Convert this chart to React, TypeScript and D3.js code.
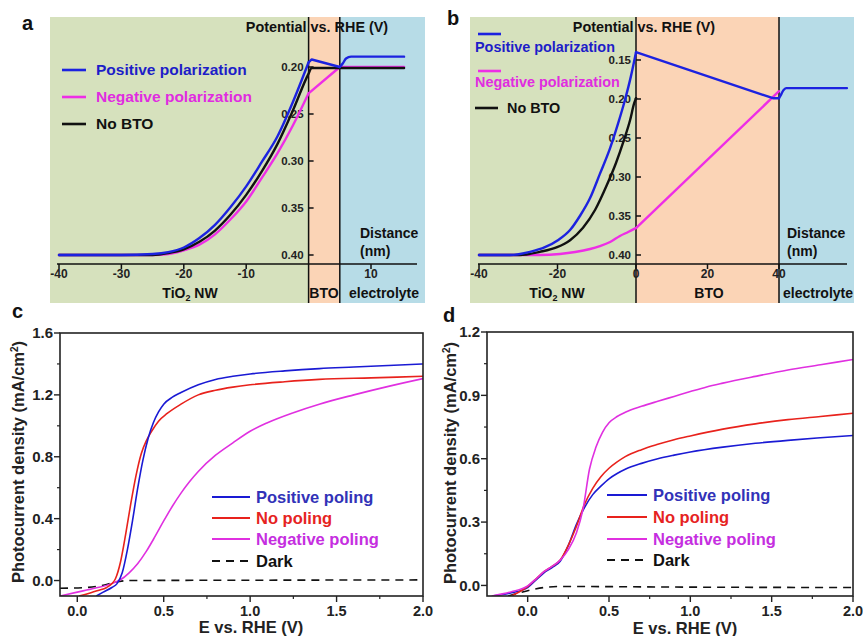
import React from 'react';
import * as d3 from 'd3';

// ---------- Panel a (band diagram, thin BTO: 0–5 nm) ----------
const aTicksX = [-40, -30, -20, -10, 10];
const aTicksY = [0.2, 0.25, 0.3, 0.35, 0.4];
const aPosX = [-40, -30, -25, -22.5, -20, -17.5, -15, -12.5, -10, -7.5, -5, -2.5, 0, 0.5, 5, 5.5, 6, 6.8, 15.3];
const aPosY = [0.4, 0.4, 0.399, 0.397, 0.392, 0.382, 0.368, 0.349, 0.327, 0.301, 0.274, 0.237, 0.195, 0.192, 0.2, 0.196, 0.191, 0.189, 0.189];
const aNoX = [-40, -25, -22.5, -20, -17.5, -15, -12.5, -10, -7.5, -5, -2.5, 0, 0.5, 2, 15.3];
const aNoY = [0.4, 0.4, 0.398, 0.394, 0.386, 0.374, 0.357, 0.336, 0.311, 0.282, 0.246, 0.207, 0.201, 0.201, 0.201];
const aNegX = [-40, -25, -22.5, -20, -17.5, -15, -12.5, -10, -7.5, -5, -2.5, 0, 5, 15.3];
const aNegY = [0.4, 0.4, 0.399, 0.395, 0.389, 0.378, 0.362, 0.343, 0.318, 0.292, 0.262, 0.228, 0.2, 0.2];

// ---------- Panel b (band diagram, thick BTO: 0–40 nm) ----------
const bTicksX = [-40, -20, 0, 20, 40];
const bTicksY = [0.15, 0.2, 0.25, 0.3, 0.35, 0.4];
const bPosX = [-40, -32.1, -27, -23.2, -19.9, -16.8, -14.3, -11.7, -9.2, -6.6, -4.6, -2.8, -1.3, 0, 38.3, 40, 40.5, 41.2, 42, 59];
const bPosY = [0.4, 0.4, 0.396, 0.39, 0.381, 0.368, 0.35, 0.327, 0.296, 0.263, 0.232, 0.201, 0.171, 0.14, 0.199, 0.199, 0.195, 0.189, 0.186, 0.186];
const bNoX = [-40, -29.6, -24.5, -20.1, -16.8, -13.5, -10.4, -7.4, -5.1, -3.1, -1.5, -0.5, 0, 59];
const bNoY = [0.4, 0.4, 0.396, 0.39, 0.381, 0.365, 0.342, 0.31, 0.282, 0.253, 0.227, 0.206, 0.199, 0.199];
const bNegX = [-40, -24.5, -19.4, -15.5, -11.7, -9.2, -6.6, -4.1, -2, 0, 40];
const bNegY = [0.4, 0.4, 0.3987, 0.3962, 0.3923, 0.3885, 0.3833, 0.3756, 0.3705, 0.3654, 0.19];

// ---------- Panel c (photocurrent) ----------
const cTicksX = [0, 0.5, 1, 1.5, 2];
const cTicksY = [0, 0.4, 0.8, 1.2, 1.6];
const cPosE = [0.11, 0.15, 0.2, 0.23, 0.26, 0.29, 0.32, 0.35, 0.38, 0.41, 0.44, 0.47, 0.5, 0.55, 0.6, 0.7, 0.8, 0.9, 1.0, 1.2, 1.4, 1.6, 1.8, 2.0];
const cPosJ = [-0.1, -0.075, -0.045, -0.02, 0.05, 0.2, 0.39, 0.6, 0.78, 0.92, 1.02, 1.09, 1.14, 1.185, 1.215, 1.265, 1.3, 1.32, 1.335, 1.355, 1.37, 1.38, 1.39, 1.4];
const cNoE = [0.01, 0.06, 0.12, 0.17, 0.2, 0.22, 0.25, 0.28, 0.31, 0.34, 0.37, 0.4, 0.43, 0.47, 0.52, 0.6, 0.7, 0.8, 0.9, 1.0, 1.2, 1.4, 1.7, 2.0];
const cNoJ = [-0.1, -0.085, -0.065, -0.045, -0.02, 0.01, 0.12, 0.3, 0.5, 0.68, 0.82, 0.905, 0.965, 1.03, 1.08, 1.14, 1.2, 1.23, 1.25, 1.265, 1.285, 1.3, 1.31, 1.32];
const cNegE = [-0.1, 0.0, 0.1, 0.2, 0.25, 0.3, 0.35, 0.4, 0.45, 0.5, 0.55, 0.6, 0.65, 0.7, 0.8, 0.9, 1.0, 1.1, 1.25, 1.4, 1.6, 1.8, 2.0];
const cNegJ = [-0.1, -0.075, -0.05, -0.02, 0.005, 0.05, 0.11, 0.19, 0.285, 0.385, 0.48, 0.565, 0.64, 0.705, 0.81, 0.89, 0.965, 1.02, 1.085, 1.14, 1.2, 1.255, 1.305];
const cDarkE = [-0.1, 0.05, 0.15, 0.22, 0.3, 1.0, 2.0];
const cDarkJ = [-0.05, -0.045, -0.03, -0.01, 0.0, 0.002, 0.004];

// ---------- Panel d (photocurrent) ----------
const dTicksX = [0, 0.5, 1, 1.5, 2];
const dTicksY = [0, 0.3, 0.6, 0.9, 1.2];
const dPosE = [-0.22, -0.1, 0.0, 0.05, 0.1, 0.15, 0.2, 0.25, 0.3, 0.35, 0.4, 0.45, 0.5, 0.55, 0.6, 0.7, 0.8, 0.9, 1.0, 1.2, 1.4, 1.6, 1.8, 2.0];
const dPosJ = [-0.05, -0.035, -0.01, 0.025, 0.06, 0.085, 0.115, 0.19, 0.29, 0.37, 0.43, 0.47, 0.505, 0.53, 0.55, 0.578, 0.6, 0.617, 0.632, 0.655, 0.673, 0.687, 0.699, 0.71];
const dNoE = [-0.1, -0.05, 0.0, 0.05, 0.1, 0.15, 0.2, 0.25, 0.3, 0.35, 0.4, 0.45, 0.5, 0.55, 0.6, 0.7, 0.8, 0.9, 1.0, 1.2, 1.4, 1.6, 1.8, 2.0];
const dNoJ = [-0.05, -0.03, -0.005, 0.03, 0.065, 0.09, 0.12, 0.19, 0.28, 0.385, 0.46, 0.515, 0.555, 0.585, 0.61, 0.643, 0.668, 0.69, 0.708, 0.74, 0.765, 0.785, 0.8, 0.815];
const dNegE = [-0.22, -0.1, 0.0, 0.05, 0.1, 0.15, 0.2, 0.25, 0.3, 0.34, 0.38, 0.42, 0.46, 0.5, 0.55, 0.6, 0.7, 0.8, 0.9, 1.0, 1.1, 1.2, 1.4, 1.6, 1.8, 2.0];
const dNegJ = [-0.05, -0.03, -0.002, 0.03, 0.065, 0.09, 0.12, 0.17, 0.25, 0.36, 0.55, 0.655, 0.725, 0.77, 0.8, 0.82, 0.848, 0.872, 0.895, 0.918, 0.94, 0.958, 0.99, 1.02, 1.045, 1.07];
const dDarkE = [-0.12, 0.0, 0.1, 0.2, 1.0, 2.0];
const dDarkJ = [-0.05, -0.025, -0.01, -0.005, -0.008, -0.01];

const FONT = '"Liberation Sans", Arial, Helvetica, sans-serif';
const BLUE = '#1c22e0';
const PINK = '#ee2ee6';
const C_BLUE = '#1a1ad4';
const C_RED = '#e8221c';
const C_PINK = '#e030e0';
const BG_GREEN = '#d6e1bd';
const BG_ORANGE = '#fbd4b6';
const BG_BLUE = '#b7dce7';

type P = [number, number];
const zip = (xs: number[], ys: number[]): P[] => xs.map((v, i) => [v, ys[i]] as P);

type BandSeries = { pts: P[]; color: string; split: boolean };

function Band(props: {
  xs: d3.ScaleLinear<number, number>;
  ys: d3.ScaleLinear<number, number>;
  left: number; right: number; boundary: number;
  ticksX: number[]; ticksY: number[];
  series: BandSeries[];
  title: { x: number };
  dist: { x: number };
  labels: { tio: number; bto: number; el: number };
  axisEnds: [number, number];
}) {
  const { xs, ys, left, right, boundary } = props;
  const x0 = xs(0), x1 = xs(boundary);
  const top = 17, bottom = 303, axisY = 264;
  const smooth = d3.line<P>().x(d => xs(d[0])).y(d => ys(d[1])).curve(d3.curveMonotoneX);
  const straight = d3.line<P>().x(d => xs(d[0])).y(d => ys(d[1]));
  const pathsFor = (s: BandSeries): string[] => {
    if (!s.split) return [smooth(s.pts) || ''];
    const a = s.pts.filter(p => p[0] <= 0);
    const b = s.pts.filter(p => p[0] >= 0 && p[0] <= boundary);
    const c = s.pts.filter(p => p[0] >= boundary);
    return [smooth(a) || '', straight(b) || '', c.length > 1 ? smooth(c) || '' : ''];
  };
  return (
    <g fontFamily={FONT} fontWeight="bold">
      <rect x={left} y={top} width={x0 - left} height={bottom - top} fill={BG_GREEN} />
      <rect x={x0} y={top} width={x1 - x0} height={bottom - top} fill={BG_ORANGE} />
      <rect x={x1} y={top} width={right - x1} height={bottom - top} fill={BG_BLUE} />
      <line x1={x0} x2={x0} y1={top} y2={bottom} stroke="#111" strokeWidth={1.5} />
      <line x1={x1} x2={x1} y1={top} y2={bottom} stroke="#111" strokeWidth={1.5} />
      <line x1={props.axisEnds[0]} x2={props.axisEnds[1]} y1={axisY} y2={axisY} stroke="#111" strokeWidth={1.5} />
      {props.ticksX.map(t => (
        <g key={t}>
          <line x1={xs(t)} x2={xs(t)} y1={axisY} y2={axisY + 5} stroke="#111" strokeWidth={1.5} />
          <text x={xs(t)} y={278} fontSize={12} textAnchor="middle" fill="#222">{t}</text>
        </g>
      ))}
      {props.ticksY.map(t => (
        <g key={t}>
          <line x1={x0} x2={x0 + 5} y1={ys(t)} y2={ys(t)} stroke="#111" strokeWidth={1.5} />
          <text x={x0 - 5} y={ys(t)} dy="0.35em" fontSize={11.5} textAnchor="end" fill="#222">{t.toFixed(2)}</text>
        </g>
      ))}
      {props.series.map((s, i) => (
        <g key={i}>
          {pathsFor(s).map((d, j) => (
            <path key={j} d={d} fill="none" stroke={s.color} strokeWidth={2.4} strokeLinejoin="round" strokeLinecap="round" />
          ))}
        </g>
      ))}
      <text x={props.title.x} y={32} fontSize={14.4} textAnchor="middle" fill="#111">Potential vs. RHE (V)</text>
      <text x={props.dist.x} y={238} fontSize={14} fill="#111">Distance</text>
      <text x={props.dist.x} y={256} fontSize={14} fill="#111">(nm)</text>
      <text x={props.labels.tio} y={298} fontSize={14} textAnchor="middle" fill="#111">
        TiO<tspan fontSize={9} dy={3}>2</tspan><tspan dy={-3}> NW</tspan>
      </text>
      <text x={props.labels.bto} y={298} fontSize={14} textAnchor="middle" fill="#111">BTO</text>
      <text x={props.labels.el} y={298} fontSize={14} textAnchor="middle" fill="#111">electrolyte</text>
    </g>
  );
}

function PanelA() {
  const xs = d3.scaleLinear().domain([-40, 10]).range([59, 371]);
  const ys = d3.scaleLinear().domain([0.2, 0.4]).range([67, 255]);
  return (
    <g>
      <Band xs={xs} ys={ys} left={50} right={425} boundary={5}
        ticksX={aTicksX} ticksY={aTicksY}
        series={[
          { pts: zip(aNegX, aNegY), color: PINK, split: true },
          { pts: zip(aNoX, aNoY), color: '#111', split: false },
          { pts: zip(aPosX, aPosY), color: BLUE, split: true },
        ]}
        title={{ x: 317 }} dist={{ x: 360 }} labels={{ tio: 190, bto: 324, el: 384 }} axisEnds={[57, 417]} />
      <g fontFamily={FONT} fontWeight="bold" fontSize={15.5}>
        <line x1={62} x2={86} y1={70} y2={70} stroke={BLUE} strokeWidth={2.6} />
        <text x={96} y={75} fill="#1d1dc8">Positive polarization</text>
        <line x1={62} x2={86} y1={97} y2={97} stroke={PINK} strokeWidth={2.6} />
        <text x={96} y={102} fill="#e02ce0">Negative polarization</text>
        <line x1={62} x2={86} y1={124} y2={124} stroke="#111" strokeWidth={2.6} />
        <text x={96} y={129} fill="#111">No BTO</text>
      </g>
      <text x={22} y={30} fontFamily={FONT} fontWeight="bold" fontSize={20} fill="#111">a</text>
    </g>
  );
}

function PanelB() {
  const xs = d3.scaleLinear().domain([-40, 0, 40]).range([479, 636, 779]);
  const ys = d3.scaleLinear().domain([0.15, 0.4]).range([60, 255]);
  return (
    <g>
      <Band xs={xs} ys={ys} left={470} right={854} boundary={40}
        ticksX={bTicksX} ticksY={bTicksY}
        series={[
          { pts: zip(bNegX, bNegY), color: PINK, split: true },
          { pts: zip(bNoX, bNoY), color: '#111', split: true },
          { pts: zip(bPosX, bPosY), color: BLUE, split: true },
        ]}
        title={{ x: 644 }} dist={{ x: 787 }} labels={{ tio: 557, bto: 709, el: 818 }} axisEnds={[478, 847]} />
      <g fontFamily={FONT} fontWeight="bold" fontSize={14.4}>
        <line x1={478} x2={501} y1={34} y2={34} stroke={BLUE} strokeWidth={2.6} />
        <text x={475} y={52} fill="#1d1dc8">Positive polarization</text>
        <line x1={478} x2={501} y1={71} y2={71} stroke={PINK} strokeWidth={2.6} />
        <text x={475} y={87} fill="#e02ce0">Negative polarization</text>
        <line x1={475} x2={498} y1={108} y2={108} stroke="#111" strokeWidth={2.6} />
        <text x={507} y={113} fill="#111">No BTO</text>
      </g>
      <text x={447} y={25} fontFamily={FONT} fontWeight="bold" fontSize={20} fill="#111">b</text>
    </g>
  );
}

function JV(props: {
  id: string;
  xd: [number, number]; yd: [number, number];
  l: number; r: number; t: number; b: number;
  ticksX: number[]; ticksY: number[];
  minorX: number[]; minorY: number[];
  series: { pts: P[]; color: string; dash?: string }[];
  legend: { x1: number; x2: number; ys: number[] };
  ylab: [number, number]; xlab: [number, number];
  letter: [string, number, number];
}) {
  const { l, r, t, b } = props;
  const xs = d3.scaleLinear().domain(props.xd).range([l, r]);
  const ys = d3.scaleLinear().domain(props.yd).range([b, t]);
  const line = d3.line<P>().x(d => xs(d[0])).y(d => ys(d[1])).curve(d3.curveMonotoneX);
  const legendItems = [
    { label: 'Positive poling', color: C_BLUE, text: '#3232b8' },
    { label: 'No poling', color: C_RED, text: '#e6231f' },
    { label: 'Negative poling', color: C_PINK, text: '#c52ee0' },
    { label: 'Dark', color: '#111', text: '#111', dash: '8,6' },
  ];
  return (
    <g fontFamily={FONT} fontWeight="bold">
      <defs>
        <clipPath id={props.id}><rect x={l} y={t} width={r - l} height={b - t} /></clipPath>
      </defs>
      <g clipPath={`url(#${props.id})`}>
        {props.series.map((s, i) => (
          <path key={i} d={line(s.pts) || ''} fill="none" stroke={s.color} strokeWidth={1.6} strokeDasharray={s.dash} />
        ))}
      </g>
      <rect x={l} y={t} width={r - l} height={b - t} fill="none" stroke="#222" strokeWidth={1.6} />
      {props.ticksX.map(v => (
        <g key={v}>
          <line x1={xs(v)} x2={xs(v)} y1={b} y2={b + 6} stroke="#222" strokeWidth={1.4} />
          <text x={xs(v)} y={616} fontSize={14.5} textAnchor="middle" fill="#222">{v.toFixed(1)}</text>
        </g>
      ))}
      {props.minorX.map(v => (
        <line key={v} x1={xs(v)} x2={xs(v)} y1={b} y2={b + 3} stroke="#222" strokeWidth={1.2} />
      ))}
      {props.ticksY.map(v => (
        <g key={v}>
          <line x1={l - 6} x2={l} y1={ys(v)} y2={ys(v)} stroke="#222" strokeWidth={1.4} />
          <text x={l - 7} y={ys(v)} dy="0.36em" fontSize={15} textAnchor="end" fill="#222">{v.toFixed(1)}</text>
        </g>
      ))}
      {props.minorY.map(v => (
        <line key={v} x1={l - 3} x2={l} y1={ys(v)} y2={ys(v)} stroke="#222" strokeWidth={1.2} />
      ))}
      {legendItems.map((it, i) => (
        <g key={it.label}>
          <line x1={props.legend.x1} x2={props.legend.x2} y1={props.legend.ys[i]} y2={props.legend.ys[i]}
            stroke={it.color} strokeWidth={2} strokeDasharray={it.dash} />
          <text x={props.legend.x2 + 6} y={props.legend.ys[i] + 6} fontSize={16.5} fill={it.text}>{it.label}</text>
        </g>
      ))}
      <text transform={`translate(${props.ylab[0]},${props.ylab[1]}) rotate(-90)`} textAnchor="middle" dy="0.35em"
        fontSize={16.5} fill="#222">
        Photocurrent density (mA/cm<tspan fontSize={10} dy={-6}>2</tspan><tspan dy={6}>)</tspan>
      </text>
      <text x={props.xlab[0]} y={props.xlab[1]} textAnchor="middle" fontSize={16.5} fill="#222">E vs. RHE (V)</text>
      <text x={props.letter[1]} y={props.letter[2]} fontSize={20} fill="#111">{props.letter[0]}</text>
    </g>
  );
}

export default function App() {
  return (
    <svg width={863} height={636} style={{ position: 'absolute', left: 0, top: 0, background: '#fff' }}>
      <rect width={863} height={636} fill="#fff" />
      <PanelA />
      <PanelB />
      <JV id="clipc" xd={[-0.1, 2.0]} yd={[-0.1, 1.6]} l={60} r={423} t={333} b={596}
        ticksX={cTicksX} ticksY={cTicksY}
        minorX={[0.25, 0.75, 1.25, 1.75]} minorY={[0.2, 0.6, 1.0, 1.4]}
        series={[
          { pts: zip(cDarkE, cDarkJ), color: '#111', dash: '8,6' },
          { pts: zip(cNegE, cNegJ), color: C_PINK },
          { pts: zip(cNoE, cNoJ), color: C_RED },
          { pts: zip(cPosE, cPosJ), color: C_BLUE },
        ]}
        legend={{ x1: 212, x2: 250, ys: [497, 518, 539, 561] }}
        ylab={[18, 462]} xlab={[251, 633]} letter={['c', 12, 318]} />
      <JV id="clipd" xd={[-0.25, 2.0]} yd={[-0.05, 1.2]} l={487} r={853} t={332} b={596}
        ticksX={dTicksX} ticksY={dTicksY}
        minorX={[0.25, 0.75, 1.25, 1.75]} minorY={[0.15, 0.45, 0.75, 1.05]}
        series={[
          { pts: zip(dDarkE, dDarkJ), color: '#111', dash: '8,6' },
          { pts: zip(dPosE, dPosJ), color: C_BLUE },
          { pts: zip(dNoE, dNoJ), color: C_RED },
          { pts: zip(dNegE, dNegJ), color: C_PINK },
        ]}
        legend={{ x1: 607, x2: 647, ys: [495, 517, 539, 560] }}
        ylab={[450, 463]} xlab={[685, 634]} letter={['d', 443, 322]} />
    </svg>
  );
}
